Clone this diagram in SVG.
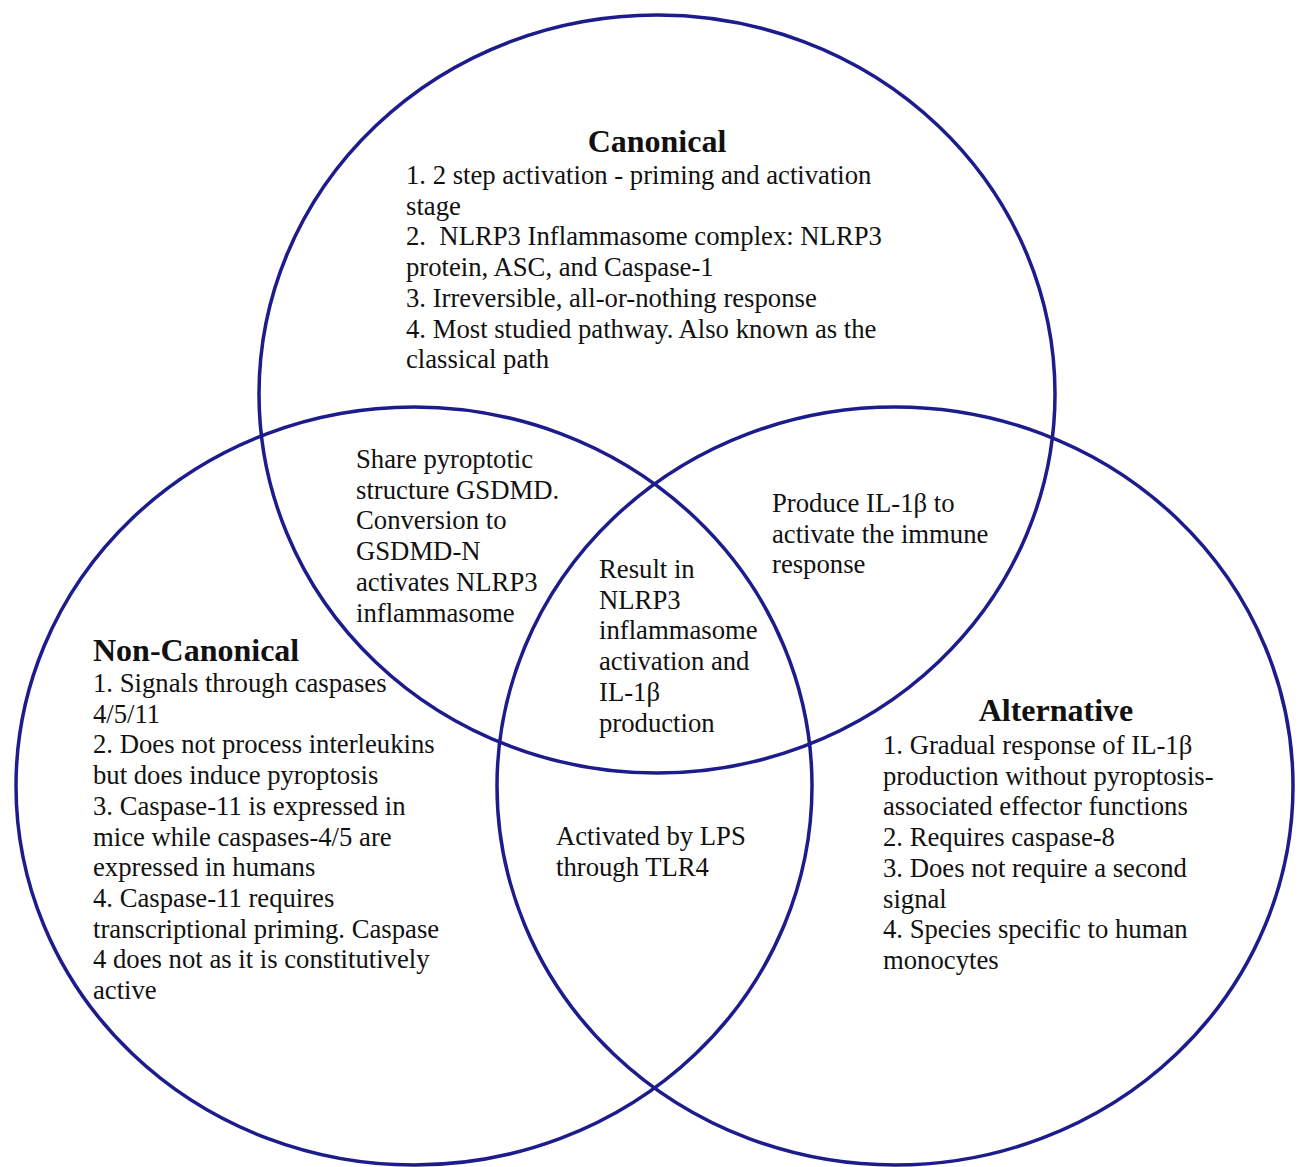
<svg xmlns="http://www.w3.org/2000/svg" width="1300" height="1167" viewBox="0 0 1300 1167">
<style>
.ring{fill:none;stroke:#1c1c8c;stroke-width:3.5}
text{font-family:"Liberation Serif","Times New Roman",serif;fill:#111;white-space:pre}
.t{font-size:32px;font-weight:bold}
.b{font-size:26.7px}
</style>
<rect x="0" y="0" width="1300" height="1167" fill="#ffffff"/>
<g id="circles">
<ellipse id="canonical-ring" class="ring" cx="657" cy="394" rx="398" ry="379"/>
<ellipse id="noncanonical-ring" class="ring" cx="414" cy="786" rx="398" ry="379"/>
<ellipse id="alternative-ring" class="ring" cx="895" cy="786" rx="398" ry="379"/>
</g>
<g id="canonical">
<text class="t" x="657" y="152" text-anchor="middle">Canonical</text>
<text class="b" x="406" y="184"><tspan x="406">1. 2 step activation - priming and activation</tspan><tspan x="406" dy="30.7">stage</tspan><tspan x="406" dy="30.7">2.  NLRP3 Inflammasome complex: NLRP3</tspan><tspan x="406" dy="30.7">protein, ASC, and Caspase-1</tspan><tspan x="406" dy="30.7">3. Irreversible, all-or-nothing response</tspan><tspan x="406" dy="30.7">4. Most studied pathway. Also known as the</tspan><tspan x="406" dy="30.7">classical path</tspan></text>
</g>
<g id="canonical-noncanonical">
<text class="b" x="356" y="468"><tspan x="356">Share pyroptotic</tspan><tspan x="356" dy="30.7">structure GSDMD.</tspan><tspan x="356" dy="30.7">Conversion to</tspan><tspan x="356" dy="30.7">GSDMD-N</tspan><tspan x="356" dy="30.7">activates NLRP3</tspan><tspan x="356" dy="30.7">inflammasome</tspan></text>
</g>
<g id="all-three">
<text class="b" x="599" y="578"><tspan x="599">Result in</tspan><tspan x="599" dy="30.7">NLRP3</tspan><tspan x="599" dy="30.7">inflammasome</tspan><tspan x="599" dy="30.7">activation and</tspan><tspan x="599" dy="30.7">IL-1β</tspan><tspan x="599" dy="30.7">production</tspan></text>
</g>
<g id="canonical-alternative">
<text class="b" x="772" y="512"><tspan x="772">Produce IL-1β to</tspan><tspan x="772" dy="30.7">activate the immune</tspan><tspan x="772" dy="30.7">response</tspan></text>
</g>
<g id="noncanonical">
<text class="t" x="93" y="661">Non-Canonical</text>
<text class="b" x="93" y="692"><tspan x="93">1. Signals through caspases</tspan><tspan x="93" dy="30.7">4/5/11</tspan><tspan x="93" dy="30.7">2. Does not process interleukins</tspan><tspan x="93" dy="30.7">but does induce pyroptosis</tspan><tspan x="93" dy="30.7">3. Caspase-11 is expressed in</tspan><tspan x="93" dy="30.7">mice while caspases-4/5 are</tspan><tspan x="93" dy="30.7">expressed in humans</tspan><tspan x="93" dy="30.7">4. Caspase-11 requires</tspan><tspan x="93" dy="30.7">transcriptional priming. Caspase</tspan><tspan x="93" dy="30.7">4 does not as it is constitutively</tspan><tspan x="93" dy="30.7">active</tspan></text>
</g>
<g id="noncanonical-alternative">
<text class="b" x="556" y="845"><tspan x="556">Activated by LPS</tspan><tspan x="556" dy="30.7">through TLR4</tspan></text>
</g>
<g id="alternative">
<text class="t" x="1056" y="721" text-anchor="middle">Alternative</text>
<text class="b" x="883" y="754"><tspan x="883">1. Gradual response of IL-1β</tspan><tspan x="883" dy="30.7">production without pyroptosis-</tspan><tspan x="883" dy="30.7">associated effector functions</tspan><tspan x="883" dy="30.7">2. Requires caspase-8</tspan><tspan x="883" dy="30.7">3. Does not require a second</tspan><tspan x="883" dy="30.7">signal</tspan><tspan x="883" dy="30.7">4. Species specific to human</tspan><tspan x="883" dy="30.7">monocytes</tspan></text>
</g>
<g id="connectors"/>
</svg>
